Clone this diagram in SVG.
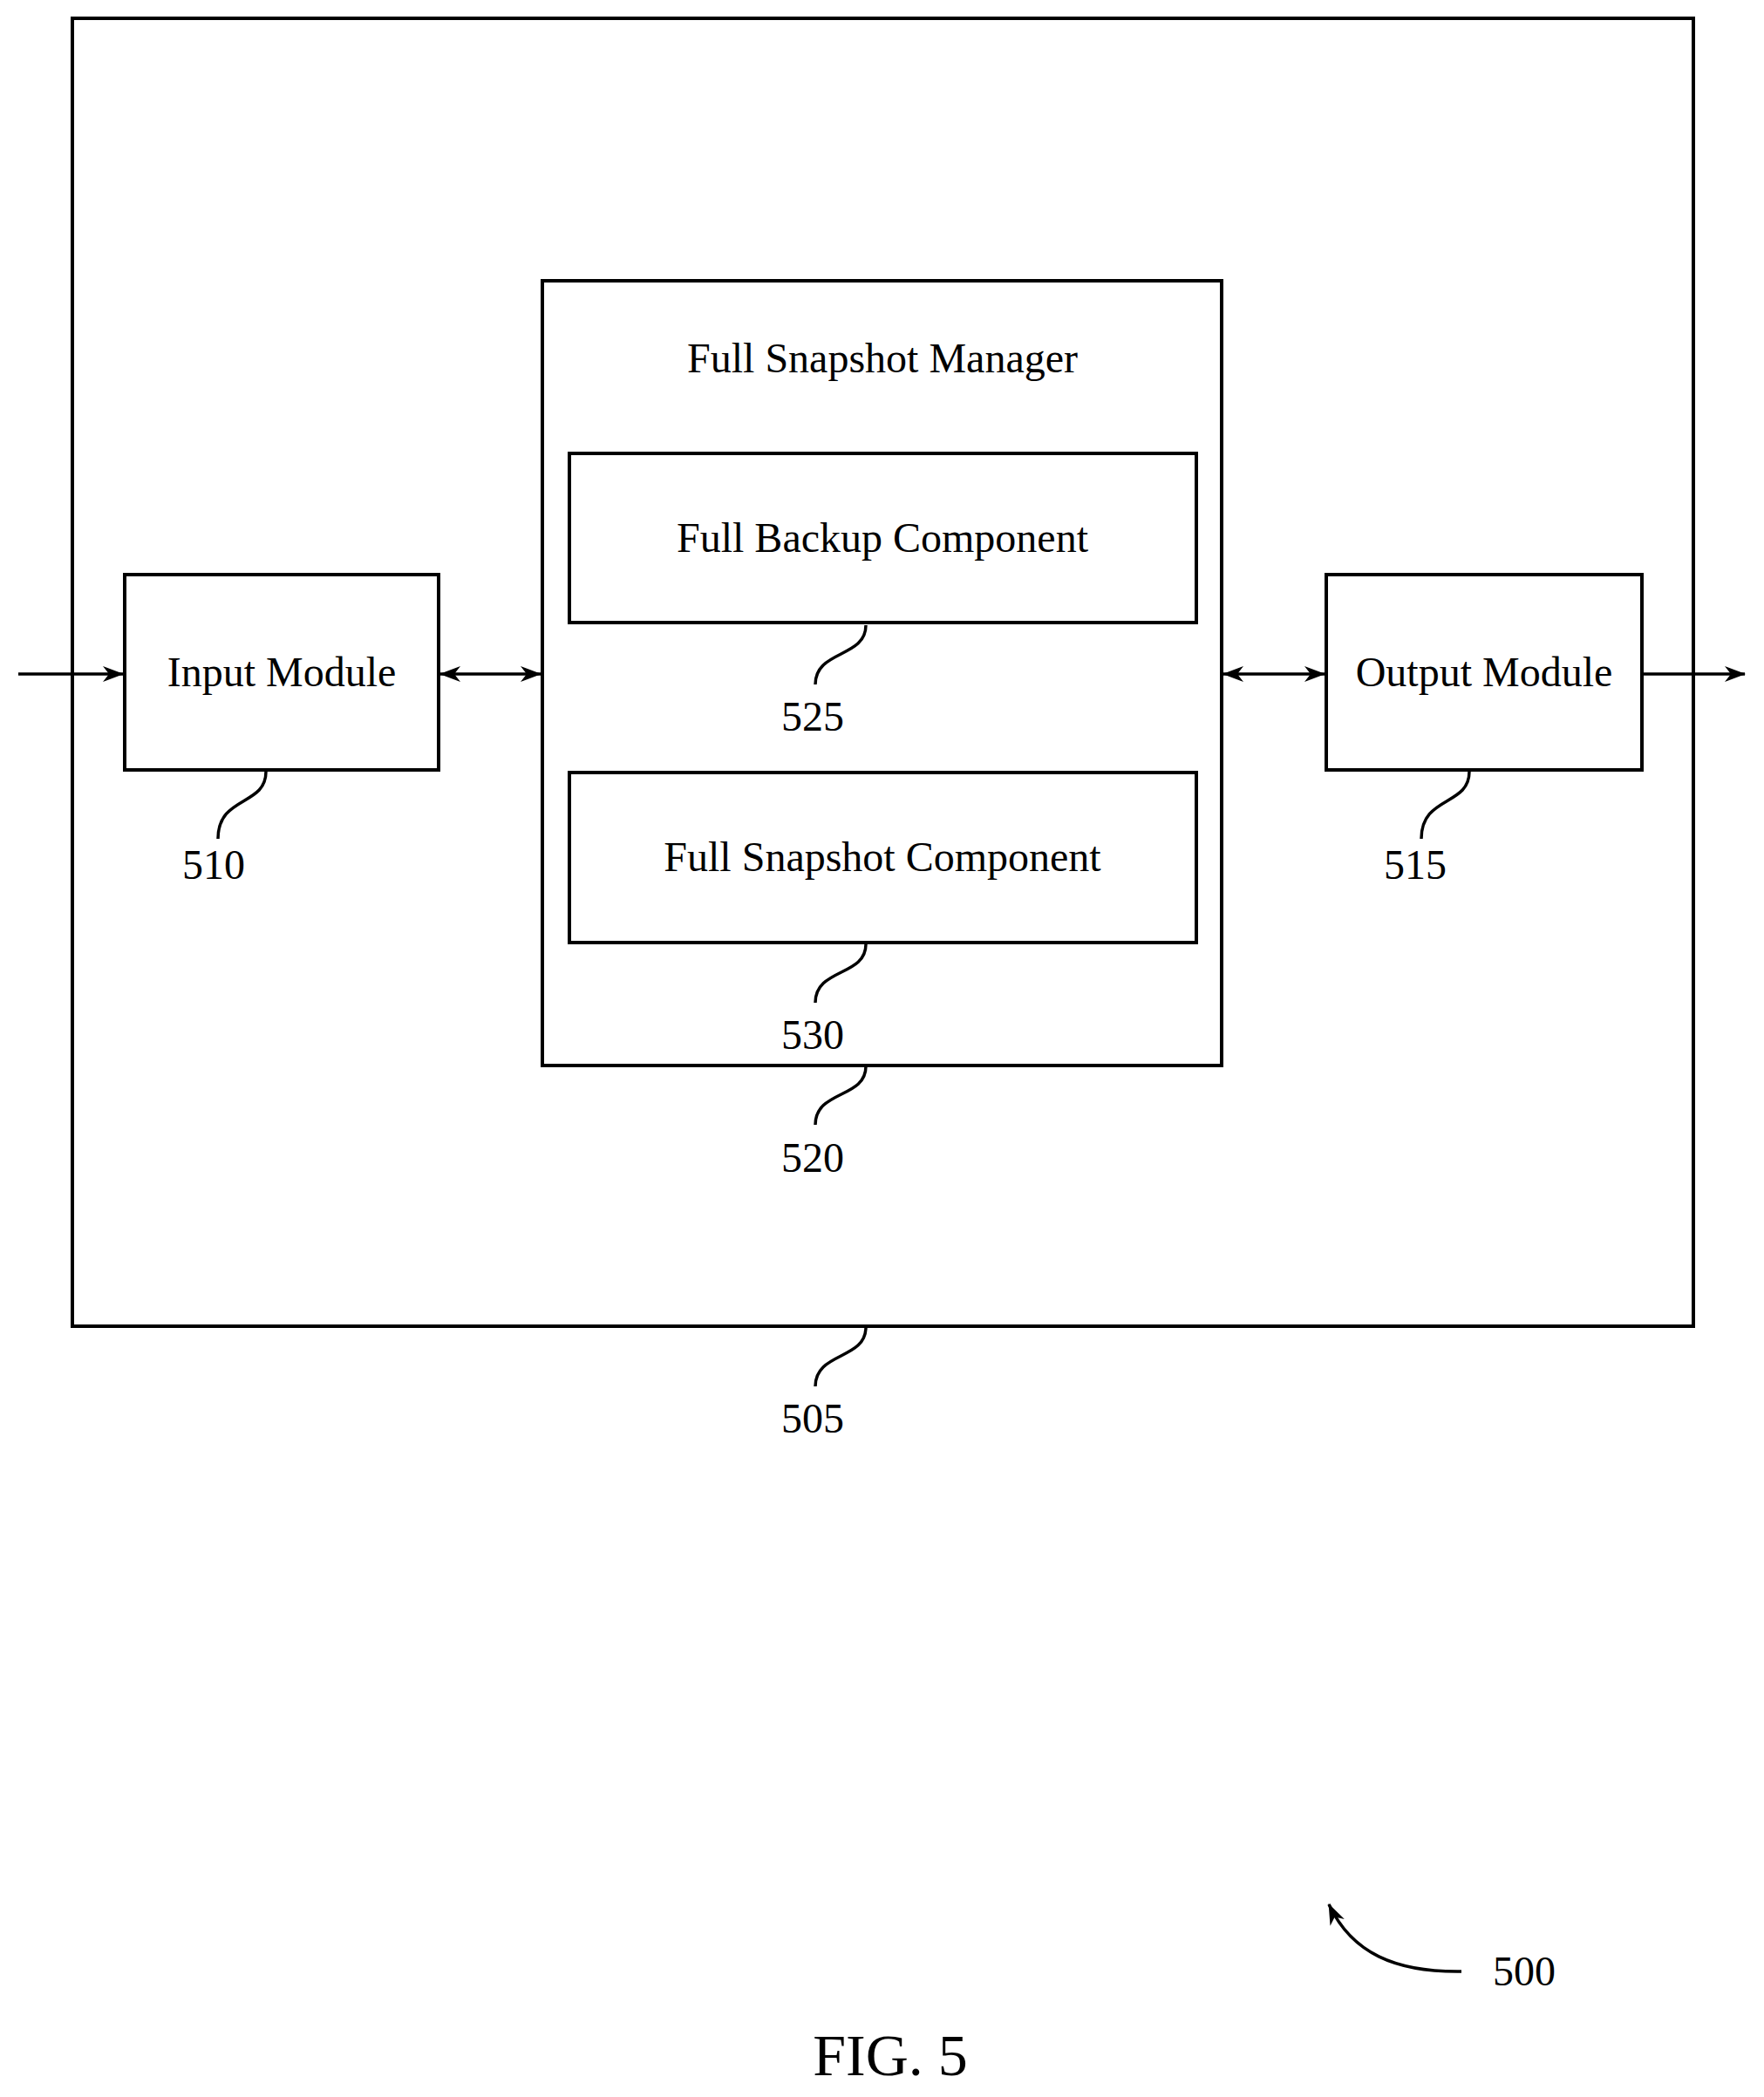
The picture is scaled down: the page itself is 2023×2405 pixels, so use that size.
<svg xmlns="http://www.w3.org/2000/svg" width="2023" height="2405" viewBox="0 0 2023 2405">
<style>
.b{fill:none;stroke:#000;stroke-width:4}
.l{fill:none;stroke:#000;stroke-width:3.5}
text{font-family:"Liberation Serif",serif;font-size:48px;fill:#000;text-anchor:middle}
</style>
<defs>
<marker id="a" viewBox="0 0 24 18" refX="23" refY="9" markerWidth="24" markerHeight="18" orient="auto-start-reverse" markerUnits="userSpaceOnUse"><path d="M0,0 L24,9 L0,18 L7,9 Z" fill="#000"/></marker>
</defs>
<rect width="2023" height="2405" fill="#fff"/>
<g id="n505"><rect class="b" x="83" y="21" width="1859" height="1500"/><path class="l" d="M993,1522 C993,1560 935,1550 935,1590"/><text x="932" y="1643">505</text></g>
<g id="n520"><rect class="b" x="622" y="322" width="779" height="900"/><text x="1012" y="427">Full Snapshot Manager</text><path class="l" d="M993,1223 C993,1260 935,1250 935,1290"/><text x="932" y="1344">520</text></g>
<g id="n525"><rect class="b" x="653" y="520" width="719" height="194"/><text x="1012" y="633">Full Backup Component</text><path class="l" d="M993,717 C993,755 935,745 935,785"/><text x="932" y="838">525</text></g>
<g id="n530"><rect class="b" x="653" y="886" width="719" height="195"/><text x="1012" y="999">Full Snapshot Component</text><path class="l" d="M993,1083 C993,1120 935,1110 935,1150"/><text x="932" y="1203">530</text></g>
<g id="n510"><rect class="b" x="143" y="659" width="360" height="224"/><text x="323" y="787">Input Module</text><path class="l" d="M305,885 C305,925 250,912 250,962"/><text x="245" y="1008">510</text></g>
<g id="n515"><rect class="b" x="1521" y="659" width="362" height="224"/><text x="1702" y="787">Output Module</text><path class="l" d="M1685,885 C1685,925 1630,912 1630,962"/><text x="1623" y="1008">515</text></g>
<g id="n500"><text x="1748" y="2277">500</text><path class="l" d="M1676,2261 C1600,2262 1550,2240 1524,2184" marker-end="url(#a)"/></g>
<text x="1021" y="2380" style="font-size:68px">FIG. 5</text>
<g id="connectors">
<path class="l" d="M21,773 L141,773" marker-end="url(#a)"/>
<path class="l" d="M505,773 L620,773" marker-start="url(#a)" marker-end="url(#a)"/>
<path class="l" d="M1403,773 L1519,773" marker-start="url(#a)" marker-end="url(#a)"/>
<path class="l" d="M1885,773 L2001,773" marker-end="url(#a)"/>
</g>
</svg>
